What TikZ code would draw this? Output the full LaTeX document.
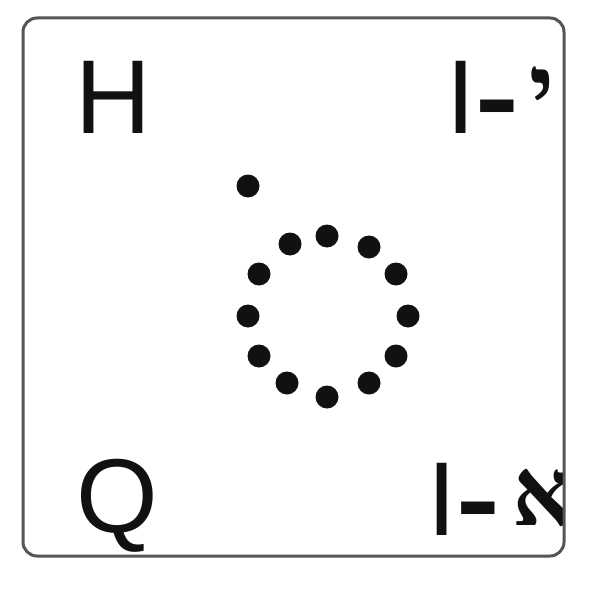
\documentclass[tikz,border=0pt]{standalone}
\usepackage{fontspec}
\setmainfont{Liberation Sans}
\newfontfamily\hebfont[Script=Hebrew]{Liberation Serif}
\TeXXeTstate=1
\definecolor{ink}{HTML}{111111}
\definecolor{framegray}{HTML}{555555}
\newcommand{\thickdash}{\scalebox{1.25}[1]{\textbf{-}}}
\newcommand{\heb}[1]{\raisebox{10pt}{\fontsize{95}{95}\selectfont\hebfont\bfseries\beginR #1\endR}}
\begin{document}
\begin{tikzpicture}[x=1pt,y=-1pt,
  lbl/.style={inner sep=0pt, anchor=base west, font=\fontsize{105}{105}\selectfont, text=ink},
  dot/.style={circle, fill=ink, inner sep=0pt, minimum size=23pt},
  border/.style={draw=framegray, line width=3pt, rounded corners=14pt}]
\useasboundingbox (0,0) rectangle (591,591);
\begin{scope}
\clip[rounded corners=14pt] (23,18) rectangle (564,556);
\node[lbl] (h) at (75,133) {H};
\node[lbl] (q) at (76,532) {Q};
\node[lbl] (tr) at (446,133) {I\thickdash\hspace{10pt}\heb{י}};
\node[lbl] (br) at (427,535) {I\thickdash\hspace{12pt}\heb{א}};
\end{scope}
\node[border, minimum width=541pt, minimum height=538pt, inner sep=0pt] (frame) at (293.5,287) {};
\node[dot] (d0) at (248,186) {};
\node[dot] (d1) at (327,236) {};
\node[dot] (d2) at (369,247) {};
\node[dot] (d3) at (396,274) {};
\node[dot] (d4) at (408,316) {};
\node[dot] (d5) at (396,356) {};
\node[dot] (d6) at (369,383) {};
\node[dot] (d7) at (327,397) {};
\node[dot] (d8) at (287,383) {};
\node[dot] (d9) at (259,356) {};
\node[dot] (d10) at (248,316) {};
\node[dot] (d11) at (259,274) {};
\node[dot] (d12) at (290,244) {};
\end{tikzpicture}
\end{document}
